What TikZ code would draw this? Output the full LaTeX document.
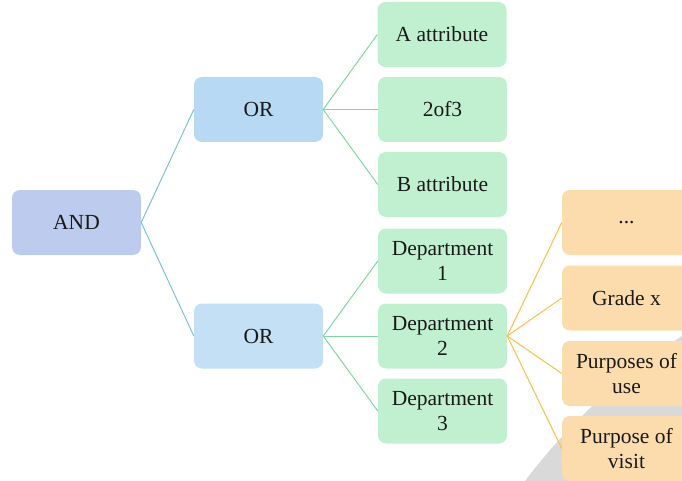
\documentclass[tikz,border=0pt]{standalone}
\usepackage{fontspec}
\setmainfont{Liberation Serif}
\definecolor{andfill}{HTML}{BDCCEE}
\definecolor{orfillA}{HTML}{B8D9F3}
\definecolor{orfillB}{HTML}{C3E0F5}
\definecolor{greenfill}{HTML}{C0F0D0}
\definecolor{orangefill}{HTML}{FCDCAC}
\definecolor{blueline}{HTML}{7DBFE5}
\definecolor{greenline}{HTML}{7ED8A0}
\definecolor{orangeline}{HTML}{FFBD4A}
\definecolor{greybg}{HTML}{D9D9D9}
\begin{document}
\begin{tikzpicture}[x=1pt,y=-1pt,
  box/.style={rounded corners=8pt, minimum width=129pt, minimum height=65pt,
    inner sep=2pt, align=center, text=black!90,
    font=\fontsize{21.5}{24.5}\selectfont},
  andbox/.style={box, fill=andfill},
  orboxA/.style={box, fill=orfillA},
  orboxB/.style={box, fill=orfillB},
  gbox/.style={box, fill=greenfill},
  obox/.style={box, fill=orangefill},
  bl/.style={draw=blueline, line width=1pt},
  gl/.style={draw=greenline, line width=1pt},
  ol/.style={draw=orangeline, line width=1pt}]
\useasboundingbox (0,0) rectangle (682,481);
\clip (0,0) rectangle (682,481);
\fill[greybg] (1008,847) circle (606);
\node[andbox] (and) at (76.5,222.5) {AND};
\node[orboxA] (or1) at (258.5,109.5) {OR};
\node[orboxB] (or2) at (258.5,336) {OR};
\node[gbox] (a) at (442,34.5) {A attribute};
\node[gbox] (two) at (442.5,109.5) {2of3};
\node[gbox] (b) at (442.5,184.5) {B attribute};
\node[gbox] (d1) at (442.5,261) {Department\\1};
\node[gbox] (d2) at (442.5,336) {Department\\2};
\node[gbox] (d3) at (442.5,411) {Department\\3};
\node[obox] (o1) at (626.5,222.5) {...};
\node[obox] (o2) at (626.5,298) {Grade x};
\node[obox] (o3) at (626.5,373.5) {Purposes of\\use};
\node[obox] (o4) at (626.5,448.5) {Purpose of\\visit};
\draw[bl] (and.east) -- (or1.west);
\draw[bl] (and.east) -- (or2.west);
\draw[gl] (or1.east) -- (a.west);
\draw[gl] (or1.east) -- (two.west);
\draw[gl] (or1.east) -- (b.west);
\draw[gl] (or2.east) -- (d1.west);
\draw[gl] (or2.east) -- (d2.west);
\draw[gl] (or2.east) -- (d3.west);
\draw[ol] (d2.east) -- (o1.west);
\draw[ol] (d2.east) -- (o2.west);
\draw[ol] (d2.east) -- (o3.west);
\draw[ol] (d2.east) -- (o4.west);
\end{tikzpicture}
\end{document}
